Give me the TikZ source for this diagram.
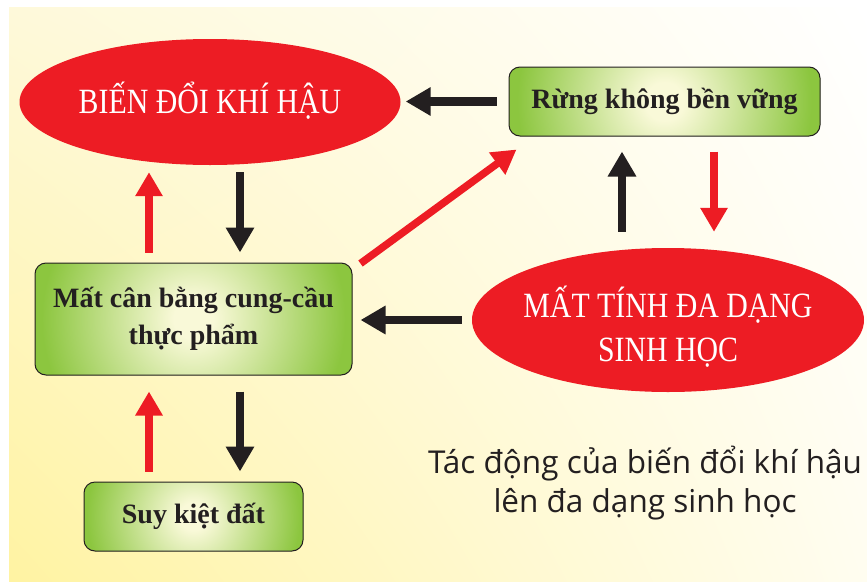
\documentclass[tikz,border=0pt]{standalone}
\usepackage{fontspec}
\setmainfont{Liberation Serif}
\newfontfamily\ellfont[FakeStretch=0.84]{Liberation Serif}
\newfontfamily\capfont{Open Sans}
\usetikzlibrary{arrows.meta,shapes.geometric,calc,shadings}
\definecolor{myred}{HTML}{ED1C24}
\definecolor{myblack}{HTML}{231F20}
\definecolor{gin}{HTML}{F9F9D8}
\definecolor{gout}{HTML}{8CC63F}
\definecolor{bgul}{HTML}{FEF9DA}
\definecolor{bgll}{HTML}{FFF3A2}
\definecolor{bglr}{HTML}{FFFDF0}
\pgfdeclareradialshading{gbox}{\pgfpoint{0bp}{0bp}}{color(0bp)=(gin); color(3bp)=(gin); color(23bp)=(gout); color(25bp)=(gout); color(50bp)=(gout)}
\tikzset{
  greenbox/.style={draw=myblack, line width=1pt, rounded corners=11pt, fill=gout,
    font=\bfseries\fontsize{28}{37}\selectfont, text=myblack, align=center, inner sep=0pt,
    path picture={\shade[shading=gbox] (path picture bounding box.center) circle (#1);}},
  redell/.style={ellipse, fill=myred, inner sep=0pt},
  elltext/.style={font=\ellfont\fontsize{35.5}{44}\selectfont, text=white, align=center},
  blkarr/.style={draw=myblack, line width=8.5pt, -{Triangle[width=27pt,length=25pt]}, color=myblack},
  redarr/.style={draw=myred, line width=7.5pt, -{Triangle[width=26pt,length=24pt]}, color=myred}
}
\begin{document}
\begin{tikzpicture}[x=1pt,y=-1pt]
\useasboundingbox (0,0) rectangle (867,581);
\fill[white] (0,0) rectangle (867,581);
\shade[upper left=bgul, upper right=white, lower left=bgll, lower right=bglr] (9,7) rectangle (867,581);

% nodes
\node[redell, minimum width=381pt, minimum height=126pt] (e1) at (210,102) {};
\node[elltext] (e1t) at (210,101) {BIẾN ĐỔI KHÍ HẬU};
\node[greenbox=160pt, minimum width=311pt, minimum height=69pt] (rb) at (664.5,101.5) {Rừng không bền vững};
\node[greenbox=165pt, minimum width=317pt, minimum height=112pt] (mc) at (193.5,319) {Mất cân bằng cung-cầu\\thực phẩm};
\node[greenbox=116pt, minimum width=219pt, minimum height=69pt] (sk) at (193.5,516.5) {Suy kiệt đất};
\node[redell, minimum width=392pt, minimum height=144pt] (e2) at (668,320) {};
\node[elltext] (e2t) at (668,327) {MẤT TÍNH ĐA DẠNG\\SINH HỌC};
\node[font=\capfont\fontsize{31.5}{39}\selectfont, text=myblack, align=center] (cap) at (645,483) {Tác động của biến đổi khí hậu\\lên đa dạng sinh học};

% connectors
\draw[blkarr, shorten <=12pt, shorten >=5pt] (rb.west) -- (rb.west -| e1.east);
\draw[redarr, shorten <=10pt, shorten >=7pt] ([xshift=-44.5pt]mc.north) -- ([xshift=-44.5pt]mc.north |- e1.south);
\draw[blkarr, shorten <=7pt, shorten >=10pt] ([xshift=46.5pt]mc.north |- e1.south) -- ([xshift=46.5pt]mc.north);
\draw[redarr] ([shift={(8pt,-1pt)}]mc.north east) -- ([shift={(8pt,-13pt)}]rb.south west);
\draw[blkarr, shorten <=16pt, shorten >=15pt] ([xshift=-42.5pt]rb.south |- e2.north) -- ([xshift=-42.5pt]rb.south);
\draw[redarr, shorten <=15pt, shorten >=16pt] ([xshift=49.5pt]rb.south) -- ([xshift=49.5pt]rb.south |- e2.north);
\draw[blkarr, shorten <=10pt, shorten >=8pt] (e2.west) -- (e2.west -| mc.east);
\draw[redarr, shorten <=10pt, shorten >=16pt] ([xshift=-44.5pt]sk.north) -- ([xshift=-44.5pt]sk.north |- mc.south);
\draw[blkarr, shorten <=16pt, shorten >=10pt] ([xshift=46.5pt]sk.north |- mc.south) -- ([xshift=46.5pt]sk.north);
\end{tikzpicture}
\end{document}
